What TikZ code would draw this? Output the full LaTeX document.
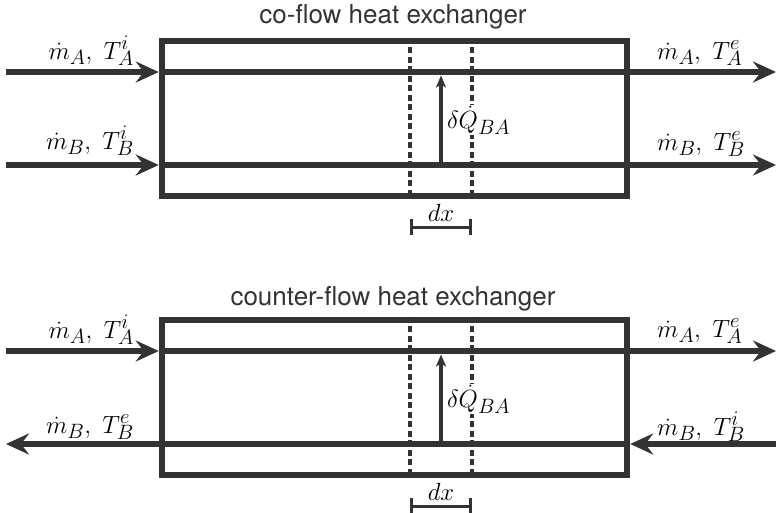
\documentclass[tikz,border=0pt]{standalone}
\usepackage{fontspec}
\newfontfamily\titlefont{TeX Gyre Heros}
\usetikzlibrary{arrows.meta}
\definecolor{hxgray}{HTML}{333333}
\DeclareMathSizes{24}{24}{19.5}{15}
\DeclareMathSizes{27}{27}{22}{17}

\begin{document}
\begin{tikzpicture}[
  x=1pt, y=-1pt,
  pipe/.style={draw=hxgray, line width=6.5pt},
  flow/.style={pipe, -{Stealth[length=23pt, width=21pt, inset=8pt]}},
  hxbox/.style={rectangle, draw=hxgray, line width=6.5pt, minimum width=465pt, minimum height=155pt, inner sep=0pt},
  slice/.style={draw=hxgray, line width=3.5pt, dash pattern=on 6pt off 3.5pt},
  heat/.style={draw=hxgray, line width=4pt, -{Stealth[length=12pt, width=10pt, inset=3pt]}},
  span/.style={draw=hxgray, line width=3pt, {Bar[width=16pt]}-{Bar[width=16pt]}},
  title/.style={font=\titlefont\fontsize{26}{30}\selectfont, text=hxgray, inner sep=0pt},
  flowlabel/.style={font=\fontsize{24}{28}\selectfont, inner sep=0pt},
  heatlabel/.style={font=\fontsize{27}{32}\selectfont, fill=white, inner sep=1pt}
]
\useasboundingbox (0,0) rectangle (776,512);

% co-flow
\node[title, anchor=base] (cotitle) at (393,23) {co-flow heat exchanger};
\node[hxbox] (cobox) at (394.5,118.5) {};
\coordinate (coAin) at (6,72);
\coordinate (coAout) at (776,72);
\coordinate (coBin) at (6,165);
\coordinate (coBout) at (776,165);
\coordinate (codxl) at (410,227);
\coordinate (codxr) at (472,227);
\coordinate (coqB) at (441,165);
\coordinate (coqA) at (441,75.5);
\draw[slice] (cobox.north -| codxl) -- (cobox.south -| codxl);
\draw[slice] (cobox.north -| codxr) -- (cobox.south -| codxr);
\draw[flow] (coAin) -- (cobox.west |- coAin);
\draw[pipe] (cobox.west |- coAin) -- (cobox.east |- coAin);
\draw[flow] (cobox.east |- coAin) -- (coAout);
\draw[flow] (coBin) -- (cobox.west |- coBin);
\draw[pipe] (cobox.west |- coBin) -- (cobox.east |- coBin);
\draw[flow] (cobox.east |- coBin) -- (coBout);
\draw[heat] (coqB) -- node[heatlabel, right=3pt] (coheat) {$\delta\dot Q_{BA}$} (coqA);
\draw[span] (codxl) -- node[flowlabel, above=4pt] (codx) {$dx$} (codxr);
\node[flowlabel, anchor=base east] (coAinlab) at (134,59) {$\dot m_A,\ T_A^i$};
\node[flowlabel, anchor=base east] (coBinlab) at (134,149) {$\dot m_B,\ T_B^i$};
\node[flowlabel, anchor=base west] (coAoutlab) at (657,59) {$\dot m_A,\ T_A^e$};
\node[flowlabel, anchor=base west] (coBoutlab) at (657,150) {$\dot m_B,\ T_B^e$};

% counter-flow
\node[title, anchor=base] (cttitle) at (393,305) {counter-flow heat exchanger};
\node[hxbox] (ctbox) at (394.5,397.5) {};
\coordinate (ctAin) at (6,351);
\coordinate (ctAout) at (776,351);
\coordinate (ctBin) at (776,444);
\coordinate (ctBout) at (6,444);
\coordinate (ctdxl) at (410,506);
\coordinate (ctdxr) at (472,506);
\coordinate (ctqB) at (441,444);
\coordinate (ctqA) at (441,354.5);
\draw[slice] (ctbox.north -| ctdxl) -- (ctbox.south -| ctdxl);
\draw[slice] (ctbox.north -| ctdxr) -- (ctbox.south -| ctdxr);
\draw[flow] (ctAin) -- (ctbox.west |- ctAin);
\draw[pipe] (ctbox.west |- ctAin) -- (ctbox.east |- ctAin);
\draw[flow] (ctbox.east |- ctAin) -- (ctAout);
\draw[flow] (ctBin) -- (ctbox.east |- ctBin);
\draw[pipe] (ctbox.east |- ctBin) -- (ctbox.west |- ctBin);
\draw[flow] (ctbox.west |- ctBin) -- (ctBout);
\draw[heat] (ctqB) -- node[heatlabel, right=3pt] (ctheat) {$\delta\dot Q_{BA}$} (ctqA);
\draw[span] (ctdxl) -- node[flowlabel, above=4pt] (ctdx) {$dx$} (ctdxr);
\node[flowlabel, anchor=base east] (ctAinlab) at (134,338) {$\dot m_A,\ T_A^i$};
\node[flowlabel, anchor=base east] (ctBoutlab) at (134,433) {$\dot m_B,\ T_B^e$};
\node[flowlabel, anchor=base west] (ctAoutlab) at (657,337) {$\dot m_A,\ T_A^e$};
\node[flowlabel, anchor=base west] (ctBinlab) at (657,435) {$\dot m_B,\ T_B^i$};
\end{tikzpicture}
\end{document}
